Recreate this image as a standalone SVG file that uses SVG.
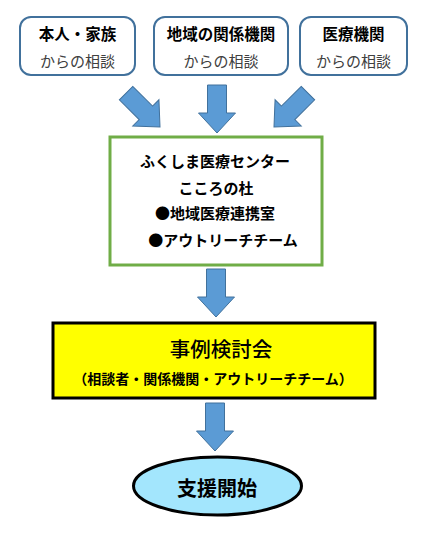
<svg xmlns="http://www.w3.org/2000/svg" width="429" height="537" viewBox="0 0 429 537">
<style>
text{font-family:"Noto Sans CJK JP","Noto Sans CJK SC",sans-serif;text-anchor:middle;dominant-baseline:central;fill:#000}
.src{fill:#fff;stroke:#41719C;stroke-width:2}
.h{font-size:15.5px;font-weight:bold}
.s{font-size:15px;fill:#404040}
.g{font-size:15px;font-weight:bold}
.arr{fill:#5B9BD5;stroke:#41719C;stroke-width:1}
</style>
<defs>
<path id="ar" d="M-9.5,-48 L9.5,-48 L9.5,-20 L18.5,-20 L0,0 L-18.5,-20 L-9.5,-20 Z"/>
</defs>
<g id="n1">
<rect class="src" x="20" y="17" width="115" height="58" rx="11"/>
<text class="h" x="77.5" y="33">本人・家族</text>
<text class="s" x="77.5" y="60">からの相談</text>
</g>
<g id="n2">
<rect class="src" x="154" y="17" width="134" height="58" rx="11"/>
<text class="h" x="221" y="33">地域の関係機関</text>
<text class="s" x="221" y="60">からの相談</text>
</g>
<g id="n3">
<rect class="src" x="300" y="17" width="107" height="58" rx="11"/>
<text class="h" x="353.5" y="33">医療機関</text>
<text class="s" x="353.5" y="60">からの相談</text>
</g>
<g id="n4">
<rect x="110" y="137" width="212" height="128" fill="#fff" stroke="#70AD47" stroke-width="3"/>
<text class="g" x="215" y="160">ふくしま医療センター</text>
<text class="g" x="216" y="187">こころの杜</text>
<text class="g" x="215" y="212">●地域医療連携室</text>
<text class="g" x="223" y="239">●アウトリーチチーム</text>
</g>
<g id="n5">
<rect x="53" y="323" width="322" height="75" fill="#FFFF00" stroke="#000" stroke-width="3"/>
<text x="221" y="348" font-size="20.5" font-weight="500">事例検討会</text>
<text x="213" y="378" font-size="14" font-weight="bold">（相談者・関係機関・アウトリーチチーム）</text>
</g>
<g id="n6">
<ellipse cx="217.5" cy="486" rx="84" ry="29" fill="#A3E6FD" stroke="#000" stroke-width="3"/>
<text x="217" y="487" font-size="20" font-weight="bold">支援開始</text>
</g>
<g id="connectors">
<use href="#ar" class="arr" transform="translate(160,127) rotate(-45)"/>
<use href="#ar" class="arr" transform="translate(217,133)"/>
<use href="#ar" class="arr" transform="translate(274,127) rotate(45)"/>
<use href="#ar" class="arr" transform="translate(216,317)"/>
<use href="#ar" class="arr" transform="translate(215,451)"/>
</g>
</svg>
